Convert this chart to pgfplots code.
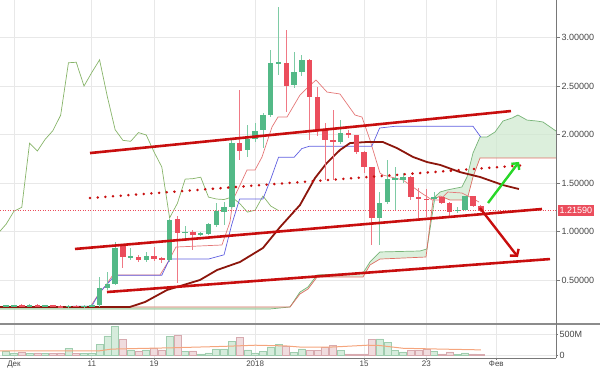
\documentclass[border=0pt]{standalone}
\usepackage{fontspec}
\setmainfont{Liberation Sans}
\usepackage{pgfplots}
\pgfplotsset{compat=1.18}
\usepackage{pgfplotstable}
\usepgfplotslibrary{fillbetween}
\usetikzlibrary{arrows.meta}

\definecolor{cgreen}{RGB}{83,185,135}
\definecolor{cred}{RGB}{235,77,92}
\definecolor{trend}{RGB}{200,14,14}
\definecolor{mathick}{RGB}{140,22,12}
\definecolor{tenkan}{RGB}{228,120,120}
\definecolor{kijun}{RGB}{95,95,225}
\definecolor{spanA}{RGB}{120,180,120}
\definecolor{spanB}{RGB}{222,110,100}
\definecolor{chikou}{RGB}{135,180,105}
\definecolor{cloud}{RGB}{205,232,205}
\definecolor{gridc}{RGB}{232,232,232}
\definecolor{framec}{RGB}{120,120,120}
\definecolor{labelc}{RGB}{70,70,70}
\definecolor{volma}{RGB}{245,165,125}
\definecolor{arrowgreen}{RGB}{40,215,40}
\definecolor{volgfill}{RGB}{214,236,220}
\definecolor{volgdraw}{RGB}{160,205,175}
\definecolor{volrfill}{RGB}{240,220,222}
\definecolor{volrdraw}{RGB}{215,170,175}

% day index: 0 = 1 Dec 2017
\pgfplotstableread{
d o h l c v
-1 0.228 0.245 0.218 0.236 110
0 0.230 0.245 0.220 0.236 60
2 0.230 0.250 0.222 0.240 55
4 0.230 0.245 0.220 0.237 50
7 0.225 0.240 0.212 0.234 170
9 0.226 0.240 0.215 0.233 45
10 0.230 0.250 0.220 0.242 60
11 0.242 0.531 0.220 0.418 258
12 0.418 0.580 0.400 0.459 463
13 0.459 0.890 0.450 0.830 683
15 0.737 0.830 0.710 0.745 132
17 0.706 0.790 0.690 0.747 132
20 0.706 1.130 0.690 1.120 449
22 0.985 1.060 0.910 0.995 97
24 0.964 1.000 0.950 0.985 37
25 0.974 1.090 0.960 1.077 59
26 1.067 1.290 1.050 1.210 154
27 1.200 1.300 1.070 1.250 154
28 1.250 1.940 1.230 1.910 330
30 1.840 2.100 1.770 1.950 132
31 1.950 2.120 1.920 2.040 59
32 2.050 2.220 1.860 2.200 97
33 2.200 2.870 2.180 2.740 192
34 2.740 3.310 2.610 2.745 258
36 2.510 2.850 2.480 2.640 74
37 2.640 2.820 2.600 2.770 154
42 1.920 2.150 1.900 2.020 119
47 1.140 1.410 0.860 1.290 390
48 1.300 1.740 1.280 1.540 302
49 1.540 1.660 1.220 1.545 119
50 1.530 1.600 1.500 1.560 82
54 1.335 1.410 1.300 1.355 97
57 1.215 1.250 1.190 1.220 23
58 1.220 1.370 1.210 1.366 59
}\greencandles

\pgfplotstableread{
d o h l c v
1 0.236 0.250 0.225 0.230 70
3 0.240 0.255 0.230 0.232 60
5 0.237 0.245 0.220 0.228 55
6 0.228 0.240 0.215 0.224 60
8 0.234 0.242 0.220 0.227 50
14 0.850 0.870 0.620 0.737 375
16 0.737 0.760 0.690 0.706 110
18 0.747 0.840 0.700 0.716 170
19 0.727 0.740 0.680 0.706 132
21 1.130 1.160 0.470 0.985 478
23 0.995 1.020 0.810 0.964 110
29 1.910 2.460 1.740 1.830 427
35 2.740 3.080 2.230 2.500 207
38 2.770 2.780 1.940 2.390 119
39 2.390 2.490 1.980 2.050 119
40 2.050 2.120 1.530 1.940 192
41 1.940 2.250 1.530 1.930 242
43 2.020 2.050 1.960 1.995 37
44 1.995 2.000 1.800 1.820 37
45 1.820 1.830 1.600 1.665 37
46 1.665 1.670 0.860 1.140 375
51 1.560 1.570 1.330 1.355 119
52 1.355 1.450 1.140 1.335 119
53 1.335 1.440 1.150 1.330 154
55 1.355 1.370 1.280 1.290 37
56 1.290 1.300 1.140 1.200 82
59 1.366 1.370 1.250 1.263 37
60 1.263 1.270 1.200 1.216 23
}\redcandles

% lagging span: close plotted 26 days back
\pgfplotstableread{
x p
-2 0.985
-1 1.077
0 1.210
1 1.250
2 1.910
3 1.830
4 1.950
5 2.040
6 2.200
7 2.740
8 2.745
9 2.500
10 2.640
11 2.770
12 2.390
13 2.050
14 1.940
15 1.930
16 2.020
17 1.995
18 1.820
19 1.665
20 1.140
21 1.290
22 1.540
23 1.545
24 1.560
25 1.355
26 1.335
27 1.330
28 1.355
29 1.290
30 1.200
31 1.220
32 1.366
33 1.263
34 1.216
}\chikoutab

\begin{document}
\begin{tikzpicture}[x=1pt,y=1pt]

% ---------------- price pane ----------------
\begin{axis}[
  at={(0pt,46pt)}, anchor=south west,
  scale only axis, width=556pt, height=323pt,
  xmin=-1.8, xmax=69.67, ymin=0.0567, ymax=3.387,
  axis line style={draw=none},
  xtick={0,10,18,31,45,53,62}, xticklabels={},
  ytick={0.5,1,1.5,2,2.5,3},
  yticklabels={0.50000,1.00000,1.50000,2.00000,2.50000,3.00000},
  ytick pos=right, yticklabel pos=right,
  tick align=outside, major tick length=4pt,
  xtick style={draw=none}, ytick style={draw=framec, line width=0.6pt},
  yticklabel style={font=\fontsize{9}{10}\selectfont, text=labelc, anchor=west, inner sep=1.5pt},
  xmajorgrids, ymajorgrids, grid style={draw=gridc, line width=0.7pt},
]
% cloud
\addplot[spanA, line width=0.7pt, name path=sA] coordinates {(-1.8,0.201) (32.9,0.201) (35.48,0.222) (36.76,0.376) (37.79,0.428) (38.95,0.552) (44.86,0.572) (45.76,0.686) (47.04,0.789) (52.19,0.799) (53.08,0.820) (54.11,1.356) (54.76,1.407) (55.66,1.428) (57.58,1.459) (58.23,1.562) (59.0,1.809) (59.9,1.974) (60.8,1.974) (61.83,2.026) (62.85,2.139) (64.01,2.170) (64.78,2.201) (65.94,2.149) (67.22,2.139) (68.0,2.129) (69.67,2.036)};
\addplot[spanB, line width=0.7pt, name path=sB] coordinates {(-1.8,0.222) (35.48,0.222) (36.76,0.356) (37.79,0.407) (38.95,0.531) (44.86,0.531) (45.76,0.655) (47.04,0.716) (52.96,0.737) (53.86,1.325) (54.76,1.366) (56.04,1.325) (58.23,1.325) (59.0,1.562) (59.9,1.758) (69.67,1.758)};
\addplot[cloud, opacity=0.7] fill between[of=sA and sB];
% lagging span
\addplot[chikou, line width=0.7pt] table[x=x, y=p] {\chikoutab};
% conversion and base lines
\addplot[tenkan, line width=0.7pt] coordinates {(-1.8,0.222) (9.77,0.222) (10.8,0.345) (11.83,0.448) (12.72,0.552) (18.77,0.552) (19.8,0.686) (20.82,0.840) (26.73,0.861) (27.76,1.098) (28.15,1.325) (29.95,1.634) (30.98,1.634) (31.88,1.768) (33.16,2.077) (33.93,2.180) (35.09,2.180) (36.76,2.407) (37.66,2.479) (38.82,2.562) (40.23,2.438) (41.9,2.418) (43.83,2.201) (44.73,2.180) (45.76,1.943) (47.04,1.603) (47.43,1.582) (50.0,1.531) (52.19,1.407) (53.73,1.325) (54.76,1.325) (55.78,1.407) (57.58,1.397) (58.6,1.356) (59.77,1.304)};
\addplot[kijun, line width=0.7pt] coordinates {(-1.8,0.222) (10,0.230) (11,0.370) (13,0.550) (19,0.550) (20,0.716) (25,0.716) (27,0.760) (28,1.075) (29,1.335) (32,1.335) (33,1.540) (34,1.765) (36,1.765) (37,1.855) (38,1.880) (46,1.880) (47,2.067) (49,2.085) (59,2.085) (60,1.974)};
% thick moving average
\addplot[mathick, line width=1.8pt] coordinates {(-1.8,0.222) (14.9,0.222) (16.84,0.273) (19.67,0.397) (23.9,0.500) (26.1,0.603) (29.05,0.686) (32.0,0.830) (34.2,1.046) (36.76,1.273) (38.7,1.552) (40.2,1.706) (41.9,1.840) (43.2,1.912) (45.4,1.923) (47.4,1.923) (49.2,1.861) (51.3,1.768) (53.1,1.716) (54.8,1.686) (57.3,1.613) (59.9,1.562) (62.85,1.479) (64.9,1.438)};
% last price line
\addplot[cred, line width=0.6pt, dash pattern=on 1pt off 1.5pt] coordinates {(-1.8,1.2159) (69.67,1.2159)};
% candles: wicks then bodies
\addplot[draw=none, mark=none, forget plot, error bars/.cd, y dir=both, y explicit, error mark=none, error bar style={draw=cgreen!75, line width=0.9pt, solid}] table[x=d, y expr={(\thisrow{h}+\thisrow{l})/2}, y error expr={(\thisrow{h}-\thisrow{l})/2}] {\greencandles};
\addplot[draw=none, mark=none, forget plot, error bars/.cd, y dir=both, y explicit, error mark=none, error bar style={draw=cred!75, line width=0.9pt, solid}] table[x=d, y expr={(\thisrow{h}+\thisrow{l})/2}, y error expr={(\thisrow{h}-\thisrow{l})/2}] {\redcandles};
\addplot[draw=none, mark=none, forget plot, error bars/.cd, y dir=both, y explicit, error mark=none, error bar style={draw=cgreen, line width=5.5pt, solid}] table[x=d, y expr={(\thisrow{o}+\thisrow{c})/2}, y error expr={max(abs(\thisrow{o}-\thisrow{c})/2,0.006)}] {\greencandles};
\addplot[draw=none, mark=none, forget plot, error bars/.cd, y dir=both, y explicit, error mark=none, error bar style={draw=cred, line width=5.5pt, solid}] table[x=d, y expr={(\thisrow{o}+\thisrow{c})/2}, y error expr={max(abs(\thisrow{o}-\thisrow{c})/2,0.006)}] {\redcandles};
% drawn channel lines
\addplot[trend, line width=2.6pt] coordinates {(9.77,1.809) (63.88,2.242)};
\addplot[trend, line width=2.8pt, line cap=round, dash pattern=on 0pt off 7.7pt] coordinates {(9.77,1.345) (65.94,1.686)};
\addplot[trend, line width=2.6pt] coordinates {(7.84,0.820) (67.87,1.232)};
\addplot[trend, line width=2.6pt] coordinates {(11.95,0.376) (68.9,0.716)};
\addplot[arrowgreen, line width=2.4pt, -{Straight Barb[length=4.5pt,width=10pt]}] coordinates {(60.93,1.294) (64.91,1.717)};
\addplot[trend, line width=2.4pt, -{Straight Barb[length=4.5pt,width=11pt]}] coordinates {(59.9,1.242) (64.78,0.737)};
\coordinate (tag) at (axis cs:69.67,1.2159);
\end{axis}

% ---------------- volume pane ----------------
\begin{axis}[
  at={(0pt,11pt)}, anchor=south west,
  scale only axis, width=556pt, height=33pt,
  xmin=-1.8, xmax=69.67, ymin=-60, ymax=720,
  axis line style={draw=none},
  xtick={0,10,18,31,45,53,62}, xticklabels={Дек,11,19,2018,15,23,Фев},
  xtick pos=bottom, ytick pos=right, yticklabel pos=right,
  ytick={0,500}, yticklabels={0,500M},
  tick align=outside, major tick length=2pt,
  xtick style={draw=framec, line width=0.6pt}, ytick style={draw=framec, line width=0.6pt},
  yticklabel style={font=\fontsize{9}{10}\selectfont, text=labelc, anchor=west, inner sep=1.5pt},
  xticklabel style={font=\fontsize{8}{9}\selectfont, text=labelc, anchor=north, inner sep=0.5pt},
  xmajorgrids, ymajorgrids, grid style={draw=gridc, line width=0.7pt},
]
\addplot[ybar, bar width=0.9, bar shift=0pt, fill=volgfill, draw=volgdraw, line width=0.6pt] table[x=d, y=v] {\greencandles};
\addplot[ybar, bar width=0.9, bar shift=0pt, fill=volrfill, draw=volrdraw, line width=0.6pt] table[x=d, y=v] {\redcandles};
\addplot[volma, line width=1pt] coordinates {(-1.8,110) (11,110) (12.5,150) (16,165) (20,180) (27,215) (31,242) (35,225) (37,195) (41,200) (45.4,242) (47,235) (50,170) (55,150) (60,132)};
\end{axis}

% pane frame
\draw[framec!85, line width=1.8pt] (0,44.8) -- (600,44.8);
\draw[framec, line width=0.8pt] (0,11) -- (556,11);
\draw[framec, line width=0.8pt] (556,11) -- (556,369);
\node[fill=cred, text=white, anchor=west, inner xsep=2pt, inner ysep=2pt, font=\fontsize{9}{10}\selectfont] at ([xshift=1.5pt]tag) {1.21590};
\pgfresetboundingbox
\useasboundingbox (0,0) rectangle (600,369);
\end{tikzpicture}
\end{document}
